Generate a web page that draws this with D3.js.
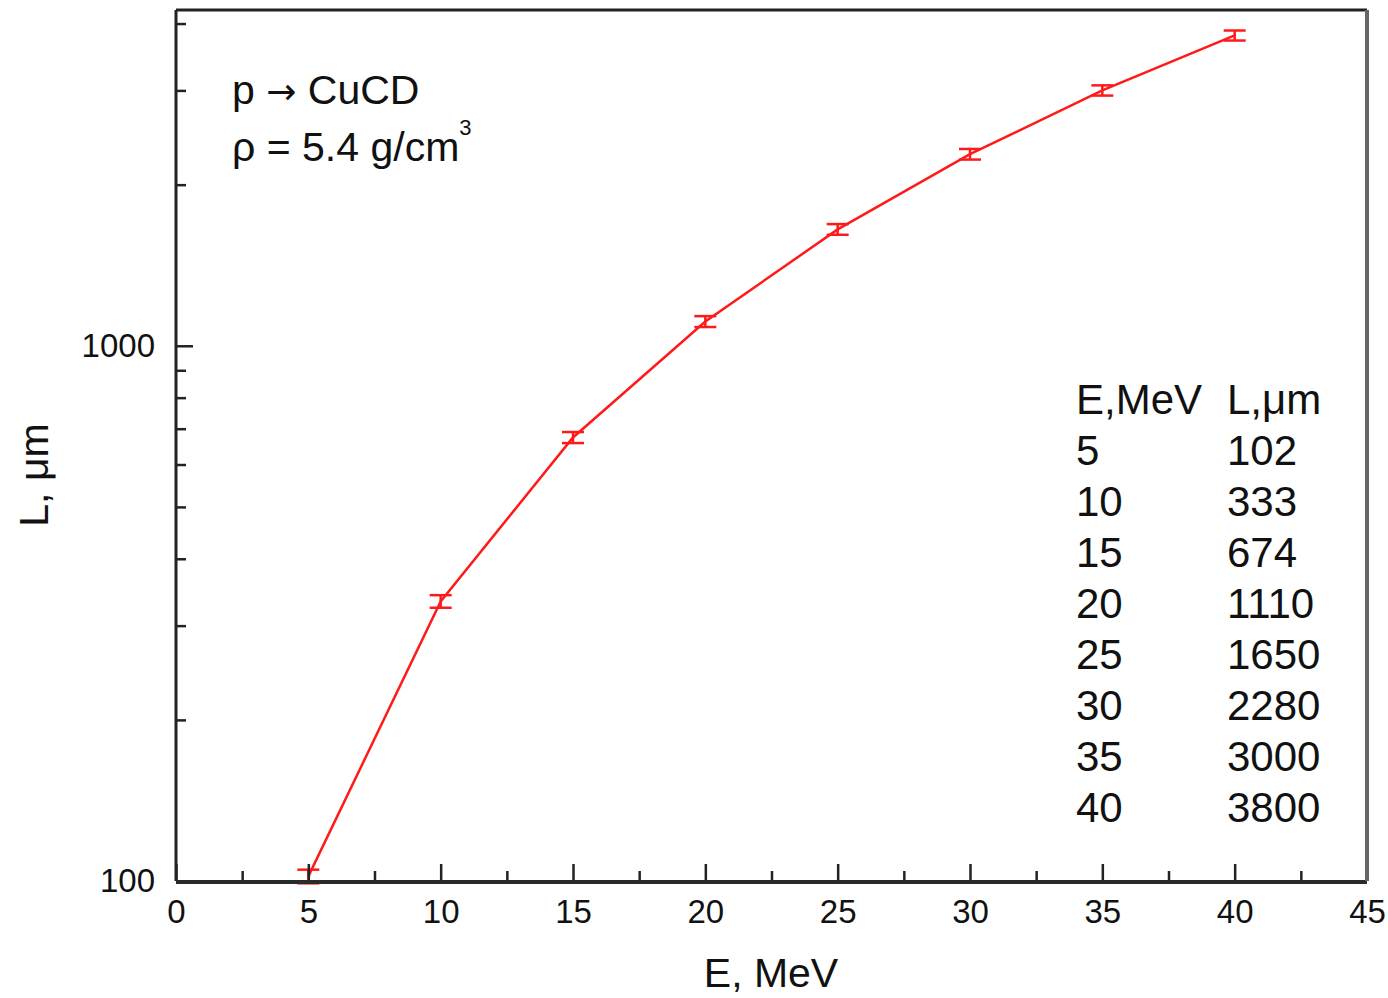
<!DOCTYPE html>
<html>
<head>
<meta charset="utf-8">
<script src="https://cdn.jsdelivr.net/npm/d3@7"></script>
<style>
  body { margin: 0; background: #fff; }
  svg { display: block; font-family: "Liberation Sans", Arial, sans-serif; }
</style>
</head>
<body>
<div id="chart"></div>
<script>
// data
const energies = [5, 10, 15, 20, 25, 30, 35, 40]
const ranges = [102, 333, 674, 1110, 1650, 2280, 3000, 3800]
const errors = [3, 9, 16, 26, 38, 52, 66, 82]

const xMajor = [0, 5, 10, 15, 20, 25, 30, 35, 40, 45]
const xMinor = [2.5, 7.5, 12.5, 17.5, 22.5, 27.5, 32.5, 37.5, 42.5]
const yMajor = [100, 1000]
const yMinor = [200, 300, 400, 500, 600, 700, 800, 900, 2000, 3000, 4000]

const MARGIN = { TOP: 10, BOTTOM: 117, LEFT: 176, RIGHT: 21 }
const WIDTH = 1388 - MARGIN.LEFT - MARGIN.RIGHT
const HEIGHT = 998 - MARGIN.TOP - MARGIN.BOTTOM

const svg = d3.select("#chart")
	.append("svg")
		.attr("width", 1388)
		.attr("height", 998)

const g = svg.append("g")
	.attr("transform", `translate(${MARGIN.LEFT}, ${MARGIN.TOP})`)

const x = d3.scaleLinear()
	.domain([0, 45])
	.range([0, WIDTH])

const y = d3.scaleLog()
	.domain([100, 4240])
	.range([HEIGHT, 0])

// data line
const pts = energies.map((e, i) => ({ e: e, l: ranges[i], err: errors[i] }))

g.append("path")
	.datum(pts)
	.attr("fill", "none")
	.attr("stroke", "#ff1a1a")
	.attr("stroke-width", 2.5)
	.attr("d", d3.line().x(d => x(d.e)).y(d => y(d.l)))

// error bars
const eb = g.selectAll(".err")
	.data(pts)
	.enter().append("g")
		.attr("class", "err")
		.attr("stroke", "#ff1a1a")
		.attr("stroke-width", 2.5)

eb.append("line")
	.attr("x1", d => x(d.e)).attr("x2", d => x(d.e))
	.attr("y1", d => y(d.l - d.err)).attr("y2", d => y(d.l + d.err))
eb.append("line")
	.attr("x1", d => x(d.e) - 11).attr("x2", d => x(d.e) + 11)
	.attr("y1", d => y(d.l + d.err)).attr("y2", d => y(d.l + d.err))
eb.append("line")
	.attr("x1", d => x(d.e) - 11).attr("x2", d => x(d.e) + 11)
	.attr("y1", d => y(d.l - d.err)).attr("y2", d => y(d.l - d.err))

// axes, ticks point inward
g.append("g")
	.attr("transform", `translate(0, ${HEIGHT})`)
	.call(d3.axisBottom(x).tickValues(xMajor).tickSize(-17).tickPadding(19).tickFormat(d3.format("d")))
g.append("g")
	.attr("transform", `translate(0, ${HEIGHT})`)
	.call(d3.axisBottom(x).tickValues(xMinor).tickSize(-10).tickFormat(""))

g.append("g")
	.call(d3.axisLeft(y).tickValues(yMajor).tickSize(-17).tickPadding(21).tickFormat(d3.format("d")))
g.append("g")
	.call(d3.axisLeft(y).tickValues(yMinor).tickSize(-10).tickFormat(""))

g.selectAll(".domain").remove()
g.selectAll(".tick line")
	.attr("stroke", "#222")
	.attr("stroke-width", 2.5)
g.selectAll(".tick text")
	.attr("fill", "#111")
	.style("font-size", "33px")
	.style("font-family", "'Liberation Sans', Arial, sans-serif")

// frame
g.append("line").attr("x1", 0).attr("x2", WIDTH).attr("y1", 0).attr("y2", 0)
	.attr("stroke", "#222").attr("stroke-width", 3)
g.append("line").attr("x1", 0).attr("x2", 0).attr("y1", 0).attr("y2", HEIGHT)
	.attr("stroke", "#222").attr("stroke-width", 3)
g.append("line").attr("x1", 0).attr("x2", WIDTH).attr("y1", HEIGHT + 1).attr("y2", HEIGHT + 1)
	.attr("stroke", "#2a2a2a").attr("stroke-width", 4)
g.append("line").attr("x1", WIDTH).attr("x2", WIDTH).attr("y1", 0).attr("y2", HEIGHT)
	.attr("stroke", "#666").attr("stroke-width", 4)

// axis titles
svg.append("text")
	.attr("x", 771)
	.attr("y", 987)
	.attr("text-anchor", "middle")
	.style("font-size", "41px")
	.attr("fill", "#111")
	.text("E, MeV")

svg.append("text")
	.attr("transform", "translate(48, 475) rotate(-90)")
	.attr("text-anchor", "middle")
	.style("font-size", "41px")
	.attr("fill", "#111")
	.text("L, μm")

// annotation
const react = svg.append("text")
	.attr("x", 232)
	.attr("y", 104)
	.style("font-size", "41px")
	.attr("fill", "#111")
react.append("tspan").text("p ")
react.append("tspan").style("font-family", "'DejaVu Sans'").style("font-size", "36px").text("→")
react.append("tspan").text(" CuCD")

const dens = svg.append("text")
	.attr("x", 232)
	.attr("y", 161)
	.style("font-size", "41px")
	.attr("fill", "#111")
dens.append("tspan").text("ρ = 5.4 g/cm")
dens.append("tspan")
	.attr("dy", -26)
	.style("font-size", "22px")
	.text("3")

// table of values
const table = svg.append("g")
	.style("font-size", "42px")
	.attr("fill", "#111")

table.append("text").attr("x", 1076).attr("y", 414).text("E,MeV")
table.append("text").attr("x", 1227).attr("y", 414).text("L,μm")

table.selectAll(".te")
	.data(energies)
	.enter().append("text")
		.attr("x", 1076)
		.attr("y", (d, i) => 465 + i * 51)
		.text(d => d)

table.selectAll(".tl")
	.data(ranges)
	.enter().append("text")
		.attr("x", 1227)
		.attr("y", (d, i) => 465 + i * 51)
		.text(d => d)
</script>
</body>
</html>
